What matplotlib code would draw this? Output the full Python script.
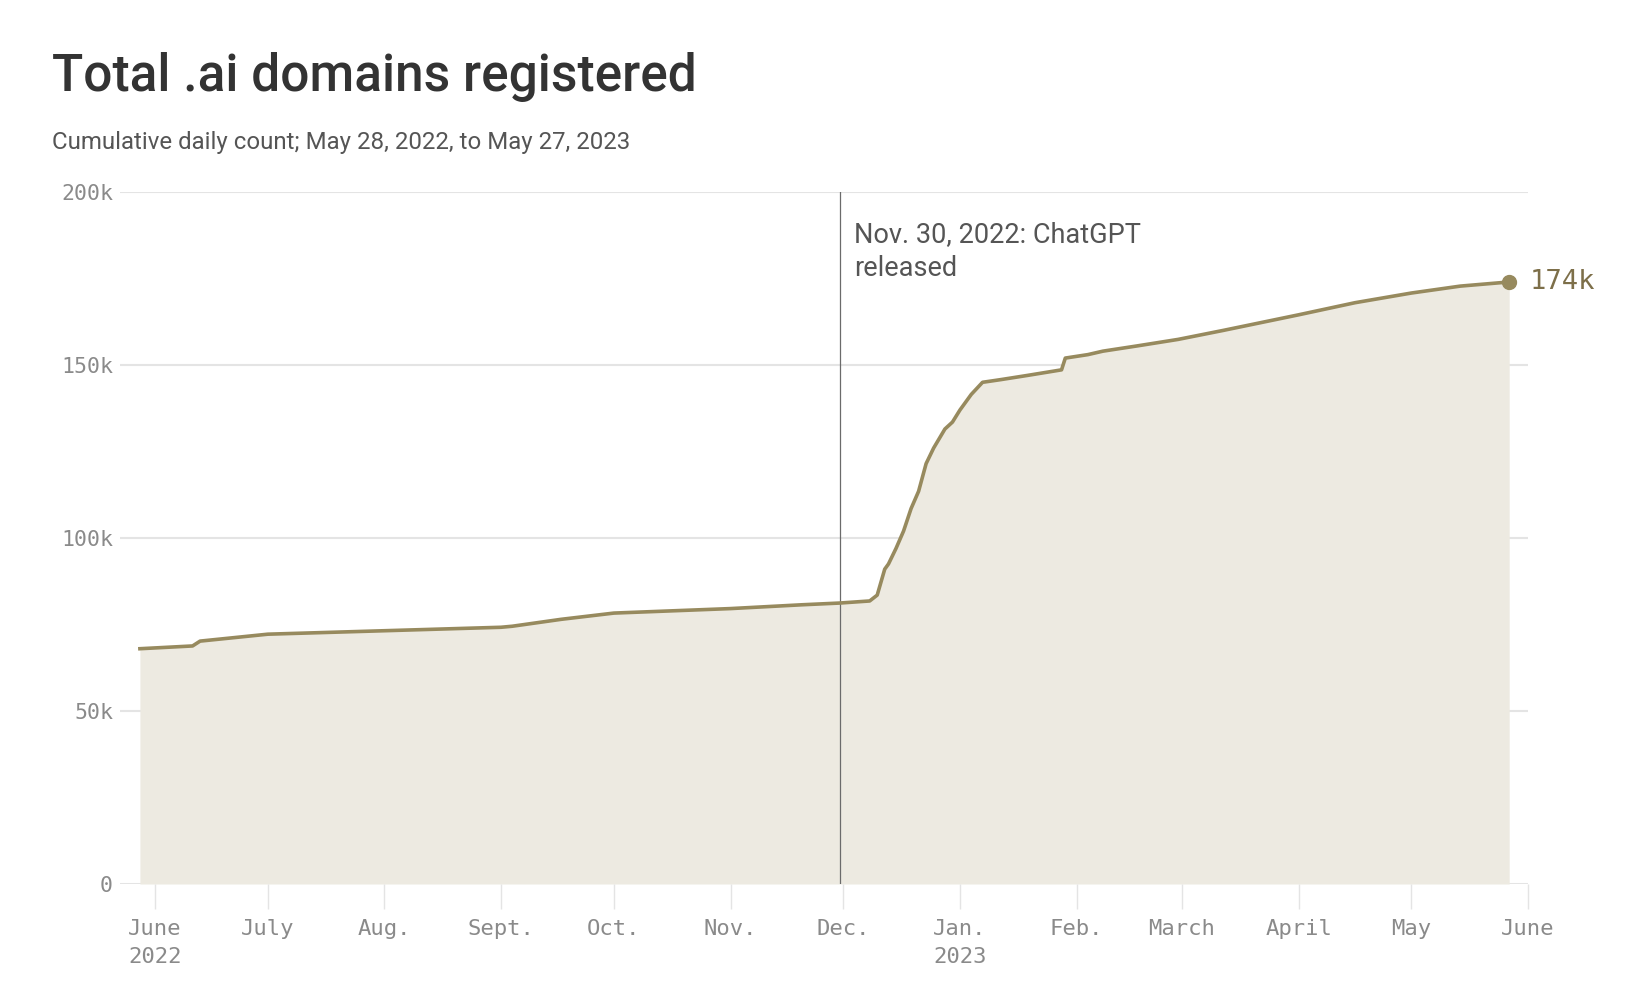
import matplotlib
matplotlib.use("Agg")
import matplotlib.pyplot as plt
import pandas as pd

# Cumulative .ai domain registrations (thousands)
dates = [
    "2022-05-28", "2022-06-11", "2022-06-13", "2022-07-01", "2022-08-01",
    "2022-09-01", "2022-09-04", "2022-09-17", "2022-10-01", "2022-11-01",
    "2022-11-20", "2022-11-30", "2022-12-08", "2022-12-10", "2022-12-12",
    "2022-12-13", "2022-12-15", "2022-12-17", "2022-12-19", "2022-12-21",
    "2022-12-23", "2022-12-25", "2022-12-28", "2022-12-30", "2023-01-01",
    "2023-01-03", "2023-01-04", "2023-01-07", "2023-01-12", "2023-01-19",
    "2023-01-28", "2023-01-29", "2023-02-04", "2023-02-08", "2023-02-17",
    "2023-02-28", "2023-03-12", "2023-04-01", "2023-04-16", "2023-05-01",
    "2023-05-14", "2023-05-27",
]
domains_k = [
    68.0, 68.8, 70.2, 72.2, 73.2,
    74.2, 74.5, 76.5, 78.3, 79.6,
    80.7, 81.2, 81.8, 83.5, 91.0,
    92.5, 97.0, 102.0, 108.5, 113.5,
    121.5, 126.0, 131.5, 133.5, 137.0,
    140.0, 141.5, 145.0, 145.8, 147.0,
    148.6, 152.0, 153.0, 154.0, 155.5,
    157.4, 160.0, 164.5, 168.0, 170.8,
    172.8, 174.0,
]

tick_dates = [
    "2022-06-01", "2022-07-01", "2022-08-01", "2022-09-01", "2022-10-01",
    "2022-11-01", "2022-12-01", "2023-01-01", "2023-02-01", "2023-03-01",
    "2023-04-01", "2023-05-01", "2023-06-01",
]
tick_labels = [
    "June\n2022", "July", "Aug.", "Sept.", "Oct.", "Nov.", "Dec.",
    "Jan.\n2023", "Feb.", "March", "April", "May", "June",
]
y_ticks = [0, 50, 100, 150, 200]
y_labels = ["0", "50k", "100k", "150k", "200k"]

chatgpt_date = "2022-11-30"
end_label = "174k"

LINE = "#978a5e"
FILL = "#edeae1"
GRID = "#e4e4e4"
TICK_TXT = "#8a8a8a"

x = pd.to_datetime(dates)
y = [v * 1000 for v in domains_k]

W, H = 1636, 990
fig = plt.figure(figsize=(W / 100, H / 100), dpi=100)
ax = fig.add_axes([120 / W, 1 - 884 / H, (1528 - 120) / W, (884 - 192) / H])

ax.fill_between(x, y, 0, color=FILL, lw=0, zorder=1)
ax.plot(x, y, color=LINE, lw=2.6, solid_joinstyle="round", zorder=3)
ax.plot(x[-1], y[-1], "o", color=LINE, ms=10, zorder=4)

ax.set_xlim(pd.Timestamp("2022-05-22 17:00"), pd.Timestamp("2023-06-01"))
ax.set_ylim(0, 200000)

for v in y_ticks:
    ax.axhline(v * 1000, color=GRID, lw=1.5 if v else 2.2, zorder=0)

ax.axvline(pd.Timestamp(chatgpt_date), color="#6b6b6b", lw=0.9, zorder=2)

for s in ax.spines.values():
    s.set_visible(False)

mono = "DejaVu Sans Mono"
ax.set_yticks([v * 1000 for v in y_ticks])
ax.set_yticklabels(y_labels, family=mono, fontsize=15.5, color=TICK_TXT)
ax.tick_params(axis="y", length=0, pad=5)

ax.set_xticks(pd.to_datetime(tick_dates))
ax.set_xticklabels(tick_labels, family=mono, fontsize=16, color=TICK_TXT,
                   linespacing=1.45)
ax.tick_params(axis="x", length=18, width=1, color=GRID, pad=7.5)

# end value label
ax.annotate(end_label, xy=(x[-1], y[-1]), xytext=(15, 0),
            textcoords="offset points", va="center", ha="left",
            family=mono, fontsize=19.5, color="#7d6f49")

# ChatGPT annotation
ann_kw = dict(textcoords="offset points", ha="left", va="baseline",
              family="Roboto", fontsize=19.5, color="#555555")
ax.annotate("Nov. 30, 2022: ChatGPT", xy=(pd.Timestamp(chatgpt_date), 200000),
            xytext=(10.5, -36), **ann_kw)
ax.annotate("released", xy=(pd.Timestamp(chatgpt_date), 200000),
            xytext=(10.5, -60.5), **ann_kw)

fig.text(52 / W, 1 - 91 / H, "Total .ai domains registered", family="Roboto",
         fontsize=37, fontweight="medium", color="#333333", va="baseline")
fig.text(52 / W, 1 - 149 / H, "Cumulative daily count; May 28, 2022, to May 27, 2023",
         family="Roboto", fontsize=17.3, color="#555555", va="baseline")

fig.savefig("out.png", dpi=100, facecolor="white")
